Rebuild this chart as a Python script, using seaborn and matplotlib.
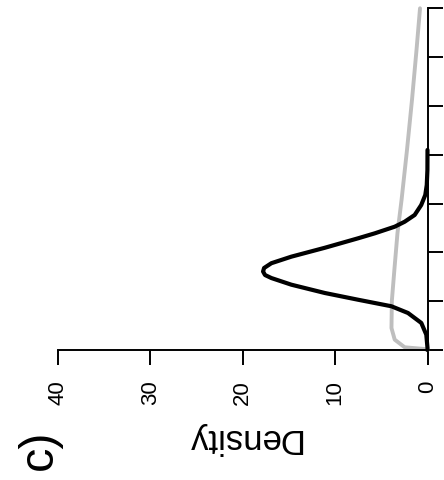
import numpy as np
import pandas as pd
import matplotlib
matplotlib.use("Agg")
import matplotlib.pyplot as plt
import seaborn as sns

# ---- data read from the (rotated) reference ----
# value along the vertical axis, and density (horizontal axis, inverted)
black_value = [0.2049, 0.1844, 0.1690, 0.1588, 0.1485, 0.1383, 0.1314, 0.1263,
               0.1195, 0.1144, 0.1047, 0.0956, 0.0889, 0.0840, 0.0804, 0.0768,
               0.0737, 0.0669, 0.0584, 0.0515, 0.0448, 0.0379, 0.0277, 0.0157,
               0.0020, 0.0]
black_density = [0.0, 0.01, 0.08, 0.24, 0.68, 1.39, 2.47, 3.55,
                 5.71, 7.52, 11.12, 14.74, 16.90, 17.69, 17.80, 17.59,
                 16.90, 14.74, 11.12, 7.52, 3.91, 2.11, 0.67, 0.13,
                 0.0, 0.0]

grey_value = [0.35, 0.3073, 0.2561, 0.2049, 0.1536, 0.1198, 0.0840, 0.0502,
              0.0225, 0.0106, 0.0028, 0.0010, 0.0]
grey_density = [0.81, 1.19, 1.68, 2.22, 2.81, 3.25, 3.57, 3.86,
                3.90, 3.55, 2.47, 0.30, 0.0]

density_ticks = [0, 10, 20, 30, 40]
value_ticks = [0.0, 0.05, 0.10, 0.15, 0.20, 0.25, 0.30, 0.35]
density_label = "Density"
panel_label = "c)"

sns.set_theme(style="white")
plt.rcParams["font.family"] = ["Liberation Sans", "DejaVu Sans"]

W, H = 444, 480
fig = plt.figure(figsize=(W / 100, H / 100), dpi=100)
ax = fig.add_axes([58 / W, (480 - 350) / H, (427.5 - 58) / W, (350 - 8.3) / H])

df_b = pd.DataFrame({"value": black_value, "density": black_density})
df_g = pd.DataFrame({"value": grey_value, "density": grey_density})

sns.lineplot(data=df_g, x="density", y="value", orient="y", sort=False,
             estimator=None, color="#BEBEBE", linewidth=2.8, ax=ax,
             clip_on=False, solid_joinstyle="round", solid_capstyle="round")
sns.lineplot(data=df_b, x="density", y="value", orient="y", sort=False,
             estimator=None, color="black", linewidth=3.0, ax=ax,
             clip_on=False, solid_joinstyle="round", solid_capstyle="round")

ax.set_xlim(40, 0)
ax.set_ylim(0, 0.35)
ax.set_xticks(density_ticks)
ax.set_xticklabels([str(t) for t in density_ticks], rotation=90, fontsize=16)
ax.set_yticks(value_ticks)
ax.yaxis.tick_right()
ax.tick_params(axis="y", which="both", right=True, left=False, labelright=False,
               labelleft=False, direction="out", length=11, width=1.4, color="black")
ax.tick_params(axis="x", bottom=True, direction="out", length=11, width=1.4,
               pad=11, color="black", labelcolor="black")
ax.set_xlabel("")
ax.set_ylabel("")
for s in ["top", "left"]:
    ax.spines[s].set_visible(False)
for s in ["bottom", "right"]:
    ax.spines[s].set_color("black")
    ax.spines[s].set_linewidth(1.4)
ax.grid(False)

fig.text(243 / W, 1 - 438 / H, density_label, rotation=180, fontsize=25,
         ha="center", va="center", color="black")
fig.text(39 / W, 1 - 450 / H, panel_label, rotation=90, fontsize=35,
         ha="center", va="center", color="black")

fig.savefig("out.png", dpi=100)
